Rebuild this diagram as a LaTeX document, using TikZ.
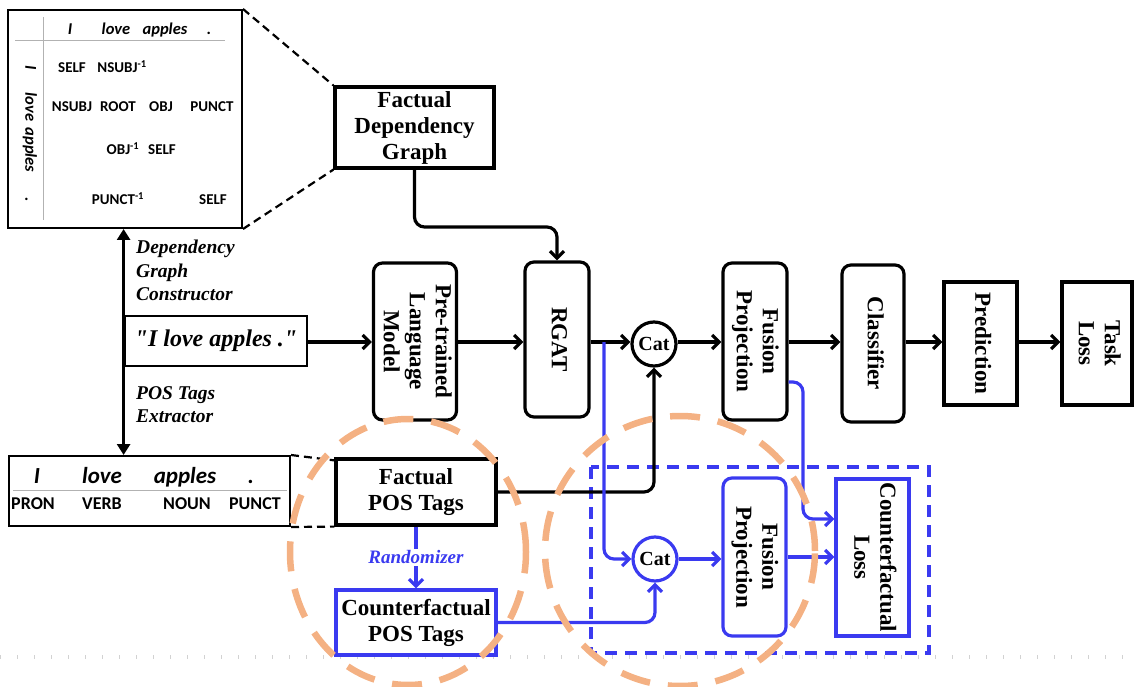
\documentclass[tikz,border=0pt]{standalone}
\usepackage{fontspec}
\setmainfont{Liberation Serif}
\newfontfamily\tabfont{Carlito}
\usetikzlibrary{arrows.meta,calc}
\definecolor{cfblue}{RGB}{58,58,240}
\definecolor{peach}{RGB}{244,177,131}
\newcommand{\vlab}[1]{\rotatebox{-90}{\begin{tabular}{@{}c@{}}#1\end{tabular}}}
\begin{document}
\begin{tikzpicture}[x=1pt,y=-1pt,
  box/.style={draw, line width=3.2pt, inner sep=0pt, align=center,
    font=\fontsize{23}{26}\selectfont\bfseries},
  rbox/.style={box, rounded corners=9pt},
  bluebox/.style={box, draw=cfblue},
  catnode/.style={draw, circle, line width=3.2pt, minimum size=44pt, inner sep=0pt,
    font=\fontsize{20}{22}\selectfont\bfseries},
  arr/.style={line width=3.2pt, -{Straight Barb[length=7pt,width=14pt]}},
  barr/.style={arr, draw=cfblue},
  zoomline/.style={line width=2.2pt, dash pattern=on 8pt off 5pt},
  tabtxt/.style={font=\tabfont\fontsize{15}{17}\selectfont\bfseries, inner sep=0pt,
    text height=0.72em, text depth=0.2em},
  tabhead/.style={font=\tabfont\fontsize{16.5}{18}\selectfont\bfseries\itshape, inner sep=0pt,
    text height=0.72em, text depth=0.2em},
  postop/.style={font=\tabfont\fontsize{23}{25}\selectfont\bfseries\itshape, inner sep=0pt,
    text height=0.72em, text depth=0.2em},
  posbot/.style={font=\tabfont\fontsize{18}{20}\selectfont\bfseries, inner sep=0pt,
    text height=0.72em, text depth=0.2em},
  sidelab/.style={font=\fontsize{19.5}{23.5}\selectfont\bfseries\itshape, align=left, inner sep=0pt},
  ring/.style={draw=peach, line width=6.5pt, dash pattern=on 30pt off 18pt},
]
\useasboundingbox (0,0) rectangle (1136,687);

% faint scan ticks along the bottom
\draw[gray!35, line width=4pt, dash pattern=on 1pt off 16pt] (0,657) -- (1136,657);

% ---------- dependency matrix ----------
\node[draw, line width=2pt, minimum width=234pt, minimum height=218pt, inner sep=0pt] (mat) at (125,119) {};
\draw[gray!60, line width=1pt] (15,41) -- (225,41);
\draw[gray!60, line width=1pt] (43,17) -- (43,220);
\node[tabhead] (hI) at (70,32) {I};
\node[tabhead] (hlove) at (116,32) {love};
\node[tabhead] (happles) at (165,32) {apples};
\node[tabhead] (hdot) at (209,32) {.};
\node[tabhead, rotate=-90] (vI) at (28,68) {I};
\node[tabhead, rotate=-90] (vlove) at (28,107) {love};
\node[tabhead, rotate=-90] (vapples) at (28,150) {apples};
\node[tabhead, rotate=-90] (vdot) at (28,200) {.};
\node[tabtxt] (c11) at (72,70) {SELF};
\node[tabtxt] (c12) at (122,70) {NSUBJ\textsuperscript{-1}};
\node[tabtxt] (c21) at (72,109) {NSUBJ};
\node[tabtxt] (c22) at (118,109) {ROOT};
\node[tabtxt] (c23) at (161,109) {OBJ};
\node[tabtxt] (c24) at (212,109) {PUNCT};
\node[tabtxt] (c32) at (123,152) {OBJ\textsuperscript{-1}};
\node[tabtxt] (c33) at (162,152) {SELF};
\node[tabtxt] (c42) at (118,202) {PUNCT\textsuperscript{-1}};
\node[tabtxt] (c44) at (213,202) {SELF};

% ---------- POS table ----------
\node[draw, line width=2pt, minimum width=281pt, minimum height=70pt, inner sep=0pt] (pos) at (149.5,491) {};
\draw[gray!60, line width=1pt] (13,490) -- (287,490);
\node[postop] (pI) at (37,481) {I};
\node[postop] (plove) at (102,481) {love};
\node[postop] (papples) at (185,481) {apples};
\node[postop] (pdot) at (251,481) {.};
\node[posbot] (tPRON) at (33,507) {PRON};
\node[posbot] (tVERB) at (102,507) {VERB};
\node[posbot] (tNOUN) at (187,507) {NOUN};
\node[posbot] (tPUNCT) at (255,507) {PUNCT};

% ---------- main pipeline ----------
\node[box, line width=2.8pt, minimum width=182pt, minimum height=50pt,
  font=\fontsize{24}{26}\selectfont\bfseries\itshape] (sent) at (216,341)
  {\textquotedbl I love apples .\textquotedbl};
\node[box, minimum width=159pt, minimum height=81pt] (fdg) at (414.5,127.5) {Factual\\Dependency\\Graph};
\node[rbox, minimum width=83pt, minimum height=157pt] (plm) at (415,341.5) {\vlab{Pre-trained\\Language\\Model}};
\node[rbox, minimum width=64pt, minimum height=155pt] (rgat) at (557,339.5) {\vlab{RGAT}};
\node[catnode] (cat) at (654,344) {Cat};
\node[rbox, minimum width=64pt, minimum height=157pt] (fp1) at (755,341.5) {\vlab{Fusion\\Projection}};
\node[rbox, minimum width=62pt, minimum height=157pt] (cls) at (873,343.5) {\vlab{Classifier}};
\node[box, minimum width=73pt, minimum height=123pt] (pred) at (980.5,343.5) {\vlab{Prediction}};
\node[box, minimum width=70pt, minimum height=123pt] (tloss) at (1097,343.5) {\vlab{Task\\Loss}};

% ---------- POS tag branch ----------
\node[box, minimum width=160pt, minimum height=66pt] (fpos) at (416,492) {Factual\\POS Tags};
\node[bluebox, minimum width=160pt, minimum height=65pt] (cpos) at (416,622.5) {Counterfactual\\POS Tags};
\node[catnode, draw=cfblue] (cat2) at (655,559) {Cat};
\node[rbox, draw=cfblue, minimum width=63pt, minimum height=158pt] (fp2) at (754.5,557) {\vlab{Fusion\\Projection}};
\node[bluebox, minimum width=73pt, minimum height=157pt] (cl) at (872.5,557.5) {\vlab{Counterfactual\\Loss}};

% counterfactual region
\draw[cfblue, line width=3.4pt, dash pattern=on 12pt off 8pt] (591,467) rectangle (929,653);

% ---------- helper coordinates ----------
\coordinate (axis) at (0,342);
\coordinate (fdgbend) at (0,227);
\coordinate (split) at (604,342);
\coordinate (fpout) at (0,382);
\coordinate (clin) at (803,519);

% ---------- zoom-out guides ----------
\draw[zoomline] (mat.north east) -- (fdg.north west);
\draw[zoomline] (mat.south east) -- (fdg.south west);
\draw[zoomline] (pos.north east) -- ($(fpos.north west)+(0,3)$);
\draw[zoomline] (pos.south east) -- (fpos.south west);

% ---------- connectors ----------
\draw[line width=3pt, {Triangle[length=11pt,width=13pt]}-{Triangle[length=11pt,width=13pt]}]
  (mat.south -| sent.west) -- (pos.north -| sent.west);
\node[sidelab, anchor=north west] (dgc) at (136,240) {Dependency\\Graph\\Constructor};
\node[sidelab, anchor=north west] (pte) at (136,386) {POS Tags\\Extractor};

\draw[arr] (sent.east |- axis) -- (plm.west |- axis);
\draw[arr] (plm.east |- axis) -- (rgat.west |- axis);
\draw[arr, rounded corners=10pt] (fdg.south) |- (fdgbend -| rgat.north) -- (rgat.north);
\draw[arr] (rgat.east |- axis) -- (cat.west |- axis);
\draw[arr] (cat.east |- axis) -- (fp1.west |- axis);
\draw[arr] (fp1.east |- axis) -- (cls.west |- axis);
\draw[arr] (cls.east |- axis) -- (pred.west |- axis);
\draw[arr] (pred.east |- axis) -- (tloss.west |- axis);
\draw[arr, rounded corners=10pt] (fpos.east) -| (cat.south);

\draw[barr, rounded corners=10pt] (split) |- (cat2.west);
\draw[barr] (fpos.south) -- node[fill=white, inner sep=2pt, text=cfblue,
  font=\fontsize{19}{21}\selectfont\bfseries\itshape] (rnd) {Randomizer} (cpos.north);
\draw[barr, rounded corners=10pt] (cpos.east) -| (cat2.south);
\draw[barr] (cat2.east) -- (fp2.west |- cat2.east);
\draw[barr] (fp2.east) -- (cl.west |- fp2.east);
\draw[barr, rounded corners=10pt] (fp1.east |- fpout) -| (clin) -- (cl.west |- clin);

% ---------- highlight rings ----------
\draw[ring] (408,552) ellipse [x radius=118pt, y radius=133pt];
\draw[ring] (680,551) ellipse [x radius=135pt, y radius=135pt];
\end{tikzpicture}
\end{document}
